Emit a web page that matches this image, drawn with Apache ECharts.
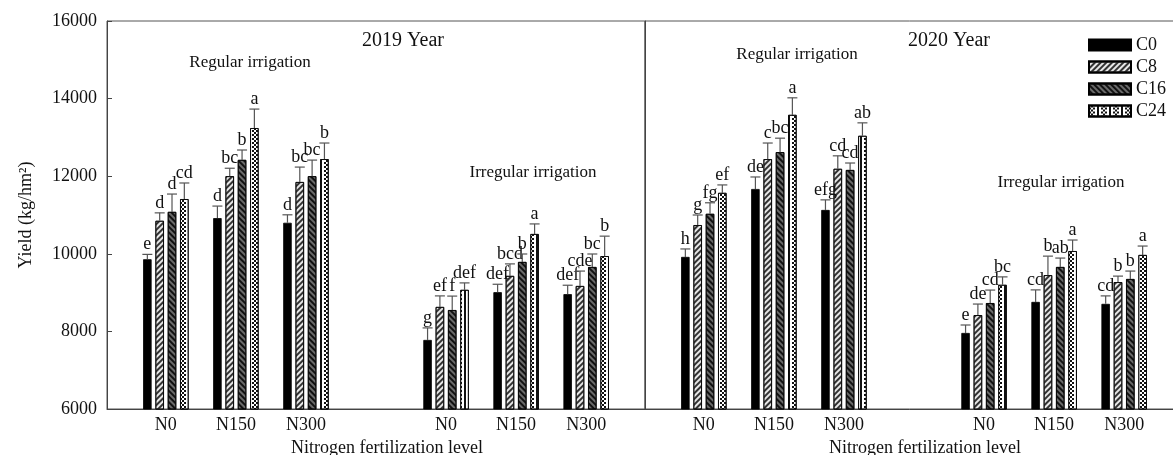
<!DOCTYPE html>
<html>
<head>
<meta charset="utf-8">
<script src="https://cdn.jsdelivr.net/npm/echarts@6/dist/echarts.min.js"></script>
<style>
  html, body { margin: 0; padding: 0; background: #fff; }
  #main { width: 1173px; height: 455px; }
</style>
</head>
<body>
<div id="main"></div>
<script>
// N levels: regular N0, N150, N300 then irregular N0, N150, N300
var levels = ['N0', 'N150', 'N300', 'N0', 'N150', 'N300']
var levelPos = [0, 1, 2, 4, 5, 6]
var seriesNames = ['C0', 'C8', 'C16', 'C24']
var yTicks = [6000, 8000, 10000, 12000, 14000, 16000]

// 2019
var c0_2019 = [9860, 10920, 10800, 7780, 9010, 8960]
var c8_2019 = [10850, 12000, 11850, 8630, 9430, 9170]
var c16_2019 = [11080, 12420, 12000, 8550, 9790, 9660]
var c24_2019 = [11410, 13240, 12440, 9070, 10510, 9940]
var c0_2019_err = [125, 310, 205, 310, 205, 230]
var c8_2019_err = [205, 205, 385, 285, 310, 385]
var c16_2019_err = [460, 255, 415, 360, 205, 335]
var c24_2019_err = [415, 490, 415, 180, 260, 515]
var c0_2019_sig = ['e', 'd', 'd', 'g', 'def', 'def']
var c8_2019_sig = ['d', 'bc', 'bc', 'ef', 'bcd', 'cde']
var c16_2019_sig = ['d', 'b', 'bc', 'f', 'b', 'bc']
var c24_2019_sig = ['cd', 'a', 'b', 'def', 'a', 'b']

// 2020
var c0_2020 = [9920, 11670, 11130, 7960, 8760, 8710]
var c8_2020 = [10740, 12440, 12190, 8420, 9450, 9270]
var c16_2020 = [11030, 12620, 12160, 8730, 9660, 9350]
var c24_2020 = [11570, 13580, 13040, 9200, 10070, 9970]
var c0_2020_err = [205, 310, 260, 205, 310, 205]
var c8_2020_err = [260, 415, 335, 285, 490, 155]
var c16_2020_err = [285, 360, 180, 335, 230, 205]
var c24_2020_err = [205, 440, 335, 205, 285, 230]
var c0_2020_sig = ['h', 'de', 'efg', 'e', 'cd', 'cd']
var c8_2020_sig = ['g', 'c', 'cd', 'de', 'b', 'b']
var c16_2020_sig = ['fg', 'bc', 'cd', 'cd', 'ab', 'b']
var c24_2020_sig = ['ef', 'a', 'ab', 'bc', 'a', 'a']

var panels = [
  { vals: [c0_2019, c8_2019, c16_2019, c24_2019], errs: [c0_2019_err, c8_2019_err, c16_2019_err, c24_2019_err], sigs: [c0_2019_sig, c8_2019_sig, c16_2019_sig, c24_2019_sig] },
  { vals: [c0_2020, c8_2020, c16_2020, c24_2020], errs: [c0_2020_err, c8_2020_err, c16_2020_err, c24_2020_err], sigs: [c0_2020_sig, c8_2020_sig, c16_2020_sig, c24_2020_sig] }
]

var FONT = 'Liberation Serif'
var barW = 8.5
var gapRatio = 0.45
var pitch = barW * (1 + gapRatio)

var styles = [
  { color: '#000' },
  { color: '#e6e6e6', decal: { symbol: 'rect', symbolSize: 1, dashArrayX: [1, 0], dashArrayY: [1.6, 2], rotation: -Math.PI / 4, color: '#333' } },
  { color: '#6a6a6a', decal: { symbol: 'rect', symbolSize: 1, dashArrayX: [1, 0], dashArrayY: [1.6, 1.6], rotation: Math.PI / 4, color: '#111' } },
  { color: '#fff', decal: { symbol: 'rect', symbolSize: 1, dashArrayX: [[2, 1.5], [0, 1.75, 2, 1.5]], dashArrayY: [1.75, 0], color: '#111' } }
]

var grids = [
  { left: 107, top: 21, width: 538, height: 388, show: true, borderColor: '#555', borderWidth: 1, outerBoundsMode: 'none', containLabel: false },
  { left: 645, top: 21, width: 538, height: 388, show: true, borderColor: '#555', borderWidth: 1, outerBoundsMode: 'none', containLabel: false }
]

var xAxes = [0, 1].map(function (g) {
  return {
    type: 'value', gridIndex: g, min: -0.84, max: 6.84,
    splitLine: { show: false },
    axisLine: { onZero: false, lineStyle: { color: '#444' } },
    axisTick: { show: false },
    axisLabel: {
      customValues: levelPos, margin: 7,
      fontFamily: FONT, fontSize: 18, color: '#111',
      formatter: function (v) { return levels[levelPos.indexOf(v)] }
    },
    name: 'Nitrogen fertilization level', nameLocation: 'middle', nameGap: 28,
    nameTextStyle: { fontFamily: FONT, fontSize: 18, color: '#111', padding: [0, 0, 0, 22] }
  }
})

var yAxes = [0, 1].map(function (g) {
  return {
    type: 'value', gridIndex: g, min: 6000, max: 16000, interval: 2000,
    splitLine: { show: false },
    axisLine: { show: true, onZero: false, lineStyle: { color: '#444' } },
    axisTick: { show: g === 0, inside: true, length: 5, lineStyle: { color: '#444' } },
    axisLabel: {
      show: g === 0, margin: 10, fontFamily: FONT, fontSize: 18, color: '#111',
      formatter: function (v) { return String(v) }
    },
    name: g === 0 ? 'Yield (kg/hm²)' : '', nameLocation: 'middle', nameGap: 72,
    nameTextStyle: { fontFamily: FONT, fontSize: 18, color: '#111' }
  }
})

var series = []
panels.forEach(function (p, g) {
  p.vals.forEach(function (vals, k) {
    series.push({
      name: seriesNames[k], type: 'bar', xAxisIndex: g, yAxisIndex: g,
      barWidth: barW, barGap: (gapRatio * 100) + '%',
      itemStyle: Object.assign({ borderColor: '#000', borderWidth: 0.8 }, styles[k]),
      data: levelPos.map(function (x, j) { return [x, vals[j]] })
    })
  })
  // error bars + significance letters
  var rows = [], sig = []
  p.vals.forEach(function (vals, k) {
    levelPos.forEach(function (x, j) {
      rows.push([x, vals[j], p.errs[k][j], k])
      sig.push(p.sigs[k][j])
    })
  })
  series.push({
    type: 'custom', xAxisIndex: g, yAxisIndex: g, z: 5, clip: false,
    data: rows,
    renderItem: function (params, api) {
      var k = api.value(3)
      var base = api.coord([api.value(0), api.value(1)])
      var top = api.coord([api.value(0), api.value(1) + api.value(2)])
      var cx = base[0] + (k - 1.5) * pitch
      var ls = { stroke: '#555', lineWidth: 1.2 }
      return {
        type: 'group',
        children: [
          { type: 'line', shape: { x1: cx, y1: base[1], x2: cx, y2: top[1] }, style: ls },
          { type: 'line', shape: { x1: cx - 5, y1: top[1], x2: cx + 5, y2: top[1] }, style: ls },
          { type: 'text', x: cx, y: top[1] - 1, style: { text: sig[params.dataIndex], fontFamily: FONT, fontSize: 18, fill: '#111', align: 'center', verticalAlign: 'bottom' } }
        ]
      }
    }
  })
})

function label(text, x, y, size) {
  return { type: 'text', x: x, y: y, style: { text: text, fontFamily: FONT, fontSize: size, fill: '#111', align: 'center', verticalAlign: 'middle' } }
}

var chart = echarts.init(document.getElementById('main'))
chart.setOption({
  animation: false,
  backgroundColor: '#fff',
  grid: grids,
  xAxis: xAxes,
  yAxis: yAxes,
  legend: {
    data: seriesNames, orient: 'vertical', left: 1088, top: 36, padding: 0,
    icon: 'rect', itemWidth: 42, itemHeight: 11, itemGap: 4,
    textStyle: { fontFamily: FONT, fontSize: 18, color: '#111' }
  },
  graphic: [
    label('2019 Year', 403, 41, 20),
    label('2020 Year', 949, 41, 20),
    label('Regular irrigation', 250, 63, 17),
    label('Irregular irrigation', 533, 173, 17),
    label('Regular irrigation', 797, 55, 17),
    label('Irregular irrigation', 1061, 183, 17)
  ],
  series: series
})
</script>
</body>
</html>
